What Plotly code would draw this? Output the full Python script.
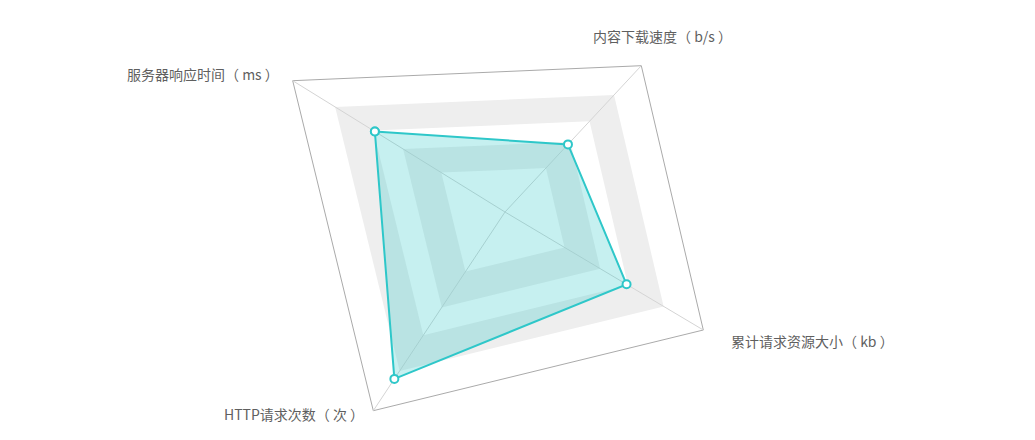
import numpy as np
import plotly.graph_objects as go

# ---------------- data ----------------
indicators = ["服务器响应时间（ ms ）", "内容下载速度（ b/s ）", "累计请求资源大小（ kb ）", "HTTP请求次数（ 次 ）"]
indicator_max = [100, 100, 100, 100]
series_name = "性能指标"
series_values = [59, 38, 59, 84]
split_values = [20, 40, 60, 80, 100]          # radar split levels (splitNumber = 5)

# ---------------- layout / geometry (style) ----------------
W, H = 1035, 440
CENTER = np.array([505.0, 212.0])
# end point of every indicator axis (the picture is drawn in a tilted perspective)
AXIS_END = [np.array([292.7, 80.7]), np.array([641.3, 65.7]),
            np.array([703.3, 330.0]), np.array([373.3, 410.7])]
# radial scale: value (percent of max) -> fraction of axis length (perspective warped)
SCALE_KNOTS_VAL = [0, 20, 40, 60, 80, 100]
SCALE_KNOTS_FRAC = [0.0, 0.30, 0.48, 0.62, 0.80, 1.0]

LINE_COLOR = "#2ec7c9"
FILL_COLOR = "rgba(46,199,201,0.27)"
BAND_COLORS = ["#ffffff", "#eeeeee"]
TEXT_COLOR = "#5f5f5f"
FONT = "Noto Sans CJK SC, Microsoft YaHei, sans-serif"


def project(i, value, vmax):
    f = np.interp(value / vmax * 100.0, SCALE_KNOTS_VAL, SCALE_KNOTS_FRAC)
    p = CENTER + f * (AXIS_END[i] - CENTER)
    return p[0], p[1]


def ring(level_value):
    xs, ys = [], []
    for i in range(len(indicators)):
        x, y = project(i, level_value, 100)
        xs.append(x)
        ys.append(y)
    return xs + xs[:1], ys + ys[:1]


fig = go.Figure()

# split areas, drawn from the outside in (alternating colours, innermost = colour 0)
n = len(split_values)
for k in range(n - 1, -1, -1):
    xs, ys = ring(split_values[k])
    fig.add_trace(go.Scatter(x=xs, y=ys, mode="lines", fill="toself",
                             fillcolor=BAND_COLORS[k % 2], line=dict(width=0),
                             hoverinfo="skip", showlegend=False))

# outer split line
xs, ys = ring(split_values[-1])
fig.add_trace(go.Scatter(x=xs, y=ys, mode="lines", line=dict(color="#aaaaaa", width=1),
                         hoverinfo="skip", showlegend=False))

# axis lines
for i in range(len(indicators)):
    x0, y0 = project(i, 0, indicator_max[i])
    x1, y1 = project(i, indicator_max[i], indicator_max[i])
    fig.add_trace(go.Scatter(x=[x0, x1], y=[y0, y1], mode="lines",
                             line=dict(color="#d4d4d4", width=1),
                             hoverinfo="skip", showlegend=False))

# series polygon
px, py = [], []
for i, v in enumerate(series_values):
    x, y = project(i, v, indicator_max[i])
    px.append(x)
    py.append(y)
px.append(px[0])
py.append(py[0])
fig.add_trace(go.Scatter(x=px, y=py, mode="lines+markers", fill="toself",
                         fillcolor=FILL_COLOR, name=series_name,
                         line=dict(color=LINE_COLOR, width=2),
                         marker=dict(size=8, color="white",
                                     line=dict(color=LINE_COLOR, width=2)),
                         text=indicators + indicators[:1],
                         customdata=series_values + series_values[:1],
                         hovertemplate="%{text}: %{customdata}<extra></extra>",
                         showlegend=False))

# indicator names
label_pos = [(281, 74, "right"), (662, 36, "center"), (729, 341, "left"), (366, 414, "right")]
for name, (lx, ly, anchor) in zip(indicators, label_pos):
    fig.add_annotation(x=lx, y=ly, text=name, showarrow=False, xanchor=anchor,
                       yanchor="middle", font=dict(family=FONT, size=14, color=TEXT_COLOR))

fig.update_layout(
    width=W, height=H, margin=dict(l=0, r=0, t=0, b=0),
    paper_bgcolor="white", plot_bgcolor="white", showlegend=False,
    xaxis=dict(range=[0, W], visible=False, fixedrange=True),
    yaxis=dict(range=[H, 0], visible=False, fixedrange=True),
)

fig.write_html("out.html")
